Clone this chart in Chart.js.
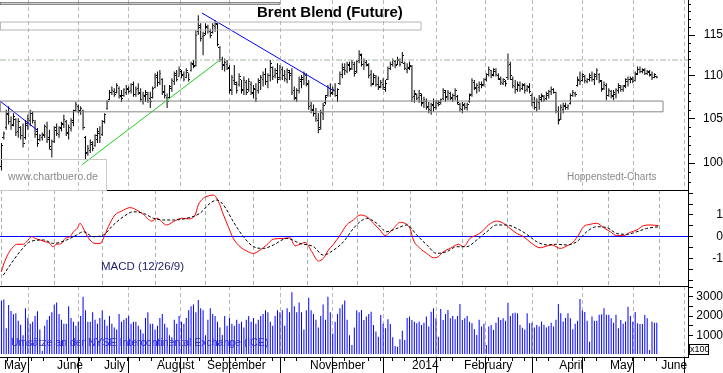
<!DOCTYPE html>
<html><head><meta charset="utf-8">
<script src="https://cdn.jsdelivr.net/npm/chart.js@4.4.1/dist/chart.umd.min.js"></script>
<style>
html,body{margin:0;padding:0;background:#fff;}
#wrap{position:relative;width:723px;height:373px;overflow:hidden;background:#fff;font-family:"Liberation Sans",Arial,sans-serif;}
#wrap canvas{position:absolute;left:0;}
.t{position:absolute;white-space:nowrap;line-height:1;}
</style></head><body>
<div id="wrap">
<canvas id="cPrice" width="723" height="190" style="top:0px"></canvas>
<canvas id="cMacd" width="723" height="96" style="top:190px"></canvas>
<canvas id="cVol" width="723" height="87" style="top:286px"></canvas>
<div class="t" style="left:257px;top:4px;font-size:15px;font-weight:bold;color:#000">Brent Blend (Future)</div>
<div style="position:absolute;left:-1px;top:159px;width:106px;height:30px;border:1px solid #c8c8c8;"></div>
<div class="t" style="left:8px;top:171px;font-size:10.5px;color:#8a8a8a">www.chartbuero.de</div>
<div class="t" style="left:567px;top:171.5px;font-size:10px;color:#8a8a8a">Hoppenstedt-Charts</div>
<div class="t" style="left:101px;top:261px;font-size:11.5px;color:#1c1c6c">MACD (12/26/9)</div>
<div class="t" style="left:11px;top:337px;font-size:10.5px;color:#3030c8">Umsätze an der NYSE Intercontinental Exchange (ICE)</div>
<div class="t" style="left:689px;top:344px;width:18px;height:9px;border:1px solid #000;font-size:9px;line-height:9px;text-align:center;color:#000">x100</div>
</div>
<script>
// ---------- DATA (trading-day index 0 = 1 May 2013) ----------
const monthTickIdx = [0.2,22.3,41.9,64,84.8,105.2,127.7,148.5,170.2,191.9,211,231.5,252.7,274];
const monthLabels  = ['May','June','July','August','September','','November','','2014','February','','April','May','June'];

const open = [99.6,102.8,103.9,105.4,104.6,104.3,104.9,103.5,104.0,103.0,102.8,104.2,104.8,105.5,104.5,103.5,102.6,102.8,103.0,104.0,102.8,101.5,102.4,103.6,103.2,103.8,104.3,104.6,103.3,103.8,104.5,105.9,106.4,105.9,105.9,102.8,101.2,101.4,102.1,101.9,102.6,103.3,103.2,104.6,106.1,107.2,108.0,108.1,108.0,108.5,107.5,107.6,108.0,108.3,108.2,108.9,107.8,108.5,107.9,107.0,107.5,107.8,107.3,107.4,108.6,109.8,109.2,109.5,108.1,107.4,107.4,108.5,109.3,110.0,109.9,110.5,110.1,109.8,110.4,110.6,111.3,111.2,115.4,116.0,114.8,115.2,116.0,115.5,115.3,116.1,116.3,113.4,112.0,111.2,111.4,111.0,108.2,109.4,109.0,108.9,109.6,108.3,109.2,108.3,109.0,107.9,108.4,108.2,109.2,109.6,110.1,109.3,110.0,111.0,110.0,110.3,109.8,110.8,110.0,109.6,110.4,110.3,108.2,107.3,108.2,109.3,109.6,110.0,109.0,106.5,105.9,105.6,104.8,103.9,105.5,106.8,107.6,108.5,108.0,108.2,107.6,109.1,110.1,110.8,110.5,111.2,110.9,111.4,110.5,111.9,112.5,111.3,111.6,111.2,110.1,109.1,109.8,109.0,108.7,109.0,108.4,109.6,110.9,111.4,111.7,111.4,111.9,111.6,111.5,110.8,110.9,111.1,107.5,107.8,107.4,107.7,106.8,107.0,106.4,105.9,106.5,106.3,106.7,106.8,107.3,108.0,107.5,107.9,107.3,107.6,107.5,106.6,106.0,106.5,106.2,106.9,107.8,109.2,108.5,108.6,108.9,108.9,109.5,110.1,110.6,110.1,110.5,110.0,109.6,109.1,109.3,109.8,111.3,109.6,108.7,108.4,108.8,108.5,108.8,108.3,108.6,107.7,106.8,106.2,106.8,107.2,107.5,107.3,107.7,108.1,108.3,108.0,105.8,104.9,106.0,106.4,106.2,106.7,107.6,107.9,108.8,109.4,109.4,109.9,109.3,109.5,109.8,109.5,109.9,110.2,109.3,108.5,108.8,107.7,108.1,107.5,107.8,108.2,108.6,108.4,108.7,109.3,109.5,109.6,109.4,110.2,110.7,110.5,110.6,110.3,110.4,110.1,109.8,109.9];
const high = [102.2,103.5,106.0,106.4,105.2,105.6,105.0,105.0,104.1,104.4,104.8,105.4,106.0,105.8,104.8,103.9,103.2,103.4,104.3,104.6,103.7,102.6,104.1,104.4,104.1,104.6,105.4,104.8,104.3,105.0,106.0,106.9,106.6,106.4,106.0,103.0,102.0,102.6,102.4,103.2,103.9,104.1,104.8,105.6,107.1,108.3,108.7,108.5,109.1,108.7,108.3,108.5,108.9,108.7,109.1,109.3,108.7,109.1,108.5,108.1,108.3,108.1,108.1,108.7,110.3,110.5,110.7,109.7,108.9,107.9,108.9,109.7,110.5,110.7,111.1,110.7,110.5,110.9,110.3,111.7,111.9,115.6,117.5,116.5,115.4,116.5,116.3,115.8,116.5,116.9,116.5,113.6,112.3,112.1,111.9,111.3,110.1,111.3,109.3,110.3,109.5,109.9,109.5,109.7,109.3,108.9,109.1,109.7,110.1,110.5,110.9,110.3,111.9,111.1,110.9,111.5,111.3,111.1,110.7,110.9,110.7,110.9,108.7,108.5,109.9,110.1,110.5,110.3,109.5,106.9,106.6,106.2,105.6,106.0,106.8,107.7,108.9,109.1,108.7,109.1,108.5,110.5,111.5,111.5,111.7,111.7,111.9,111.7,111.9,113.1,112.7,112.1,111.9,111.5,110.7,110.3,110.1,109.9,109.5,109.7,109.5,111.1,111.7,112.1,111.9,112.3,112.1,112.9,111.7,111.5,111.7,111.3,108.3,107.9,108.3,107.9,107.5,107.3,106.9,106.8,107.3,107.1,107.1,107.3,108.5,108.3,108.3,108.1,107.9,108.5,107.7,106.8,106.9,106.8,106.8,107.9,109.7,109.5,109.1,109.3,109.3,109.7,110.3,111.1,110.7,110.9,110.9,110.3,109.9,109.7,109.5,112.7,111.7,109.9,109.5,109.3,109.3,109.1,109.1,108.9,109.1,107.9,107.5,107.3,107.7,107.9,107.7,108.1,108.3,108.7,108.5,108.1,106.4,106.6,106.8,106.8,106.6,107.9,108.3,108.1,109.9,110.5,110.3,110.1,109.7,110.3,110.5,110.3,110.9,110.3,109.5,109.3,109.1,108.5,108.3,108.3,108.5,109.1,108.9,108.9,109.7,109.9,109.9,109.9,110.5,111.1,111.1,110.9,110.9,110.7,110.7,110.5,110.3,110.0];
const low = [99.2,102.6,103.7,104.3,103.7,104.1,103.0,102.8,102.6,101.7,102.6,103.7,104.1,104.4,102.8,101.8,102.4,102.5,102.8,102.2,101.5,100.6,102.2,103.0,102.8,103.5,103.9,103.0,102.6,103.5,104.1,105.8,105.6,105.4,103.7,100.4,100.8,101.1,101.3,101.8,102.2,102.2,103.0,104.4,106.0,107.1,107.7,107.5,107.9,107.3,106.9,107.5,107.7,107.9,107.9,107.5,107.5,107.7,106.9,106.6,106.9,106.8,106.2,107.3,108.5,108.7,108.9,107.7,107.3,106.2,107.3,108.1,108.9,109.3,109.9,109.7,109.3,109.7,109.3,110.5,110.9,111.1,115.0,114.2,112.5,115.0,115.2,114.6,115.2,115.4,113.6,111.7,110.7,110.5,110.7,107.9,107.7,108.9,107.9,108.7,107.9,107.7,107.7,108.1,107.7,107.3,106.9,107.9,108.3,108.7,108.9,108.5,109.3,109.5,109.7,109.1,109.5,109.5,109.3,109.1,109.5,107.7,107.1,106.9,107.9,108.5,108.9,108.7,106.0,105.6,105.2,104.6,103.3,103.7,104.8,106.6,107.5,107.5,107.7,107.5,106.9,108.9,109.7,110.1,110.3,110.5,110.7,109.9,110.3,111.5,111.1,110.7,111.1,109.7,108.7,108.9,108.7,108.3,108.5,108.3,108.1,109.5,110.7,111.1,110.9,111.3,111.1,111.5,110.7,110.3,110.7,106.9,106.8,107.1,106.8,106.4,106.2,106.0,105.6,105.4,105.8,106.0,106.4,106.6,107.1,106.9,107.1,107.1,106.9,107.1,106.6,105.8,105.6,106.0,105.9,106.8,107.5,108.3,107.9,108.1,108.5,108.7,109.3,109.9,109.7,109.9,109.9,109.5,108.9,108.9,108.7,109.5,109.5,108.5,107.9,108.1,108.1,108.3,107.9,108.1,107.9,106.4,106.0,105.8,106.0,106.9,106.9,107.1,107.3,107.7,107.9,105.6,104.3,104.8,105.6,106.0,106.0,106.6,107.5,107.5,108.7,108.9,109.3,109.1,109.1,109.3,109.3,108.9,109.5,109.1,108.1,108.3,107.1,107.5,107.3,107.1,107.3,107.9,108.1,108.1,108.5,108.7,109.1,109.1,109.3,110.1,110.3,110.3,110.1,110.1,109.9,109.5,109.7,109.7];
const close = [101.9,103.3,105.6,104.6,104.2,105.2,103.4,104.6,103.0,102.2,104.4,105.0,105.6,104.7,103.2,102.2,103.0,103.2,104.1,102.6,101.8,102.4,103.9,103.3,104.0,104.4,104.9,103.4,104.0,104.8,105.9,106.6,105.8,106.1,104.0,101.0,101.6,102.3,101.6,103.0,103.5,102.8,104.6,105.4,106.9,108.0,108.2,107.8,108.8,107.6,107.3,108.3,108.5,108.1,108.9,107.8,108.4,108.0,107.2,107.7,108.0,107.1,107.0,108.5,110.0,109.2,110.3,108.0,107.6,107.0,108.7,109.4,110.3,109.6,110.8,110.0,109.6,110.6,109.5,111.5,111.1,115.0,116.2,114.6,114.9,116.1,115.6,115.0,116.2,116.4,113.8,112.0,111.3,111.6,110.9,108.3,109.8,109.2,108.2,109.9,108.2,109.4,108.0,109.3,108.0,108.5,107.3,109.4,109.8,110.2,109.3,110.0,111.5,109.9,110.6,109.5,111.0,110.0,109.7,110.6,110.0,108.0,107.4,108.2,109.5,109.8,110.2,109.1,106.4,106.0,105.5,105.0,103.7,105.7,106.5,107.4,108.6,107.9,108.3,107.7,108.3,110.2,111.0,110.6,111.4,110.8,111.6,110.3,111.7,112.6,111.4,111.8,111.3,110.0,109.0,110.0,109.0,108.6,109.2,108.6,109.1,110.9,111.3,111.8,111.2,112.0,111.4,112.4,110.9,111.0,111.2,107.4,107.9,107.3,107.9,106.7,107.2,106.3,106.0,106.6,106.2,106.8,106.6,107.2,108.2,107.4,108.0,107.4,107.7,108.2,106.8,106.1,106.6,106.2,106.6,107.7,109.4,108.6,108.8,109.0,108.8,109.5,110.1,110.8,110.0,110.7,110.1,109.7,109.2,109.5,109.1,111.2,110.0,108.8,108.3,108.9,108.4,108.9,108.2,108.7,108.1,106.8,106.3,106.9,107.4,107.6,107.2,107.9,108.1,108.4,108.0,105.9,104.8,106.2,106.5,106.3,106.5,107.7,108.0,107.8,109.6,109.3,110.1,109.4,109.6,110.0,109.5,110.1,110.6,109.4,108.4,108.9,107.6,108.2,107.6,108.0,108.3,108.8,108.3,108.8,109.5,109.6,109.7,109.3,110.3,110.8,110.5,110.7,110.3,110.5,110.0,109.8,110.1,109.8];
const volume = [2800,2860,1360,2570,2260,2090,2140,1750,1550,1000,2400,1900,1600,1700,2000,2250,1300,200,1500,1800,2000,2200,2600,2700,2100,1800,1600,1600,2500,1900,1700,1500,1700,2000,3000,2300,1700,1700,2200,1800,1600,1900,2300,1800,1500,2000,1600,1400,1300,2100,1700,1800,1900,2000,1600,1700,1700,1500,1300,1100,1900,2200,1600,1600,1300,1500,1900,2100,1600,1400,1000,900,1800,1600,2000,1700,1600,1900,2300,2500,2600,2200,2830,2400,2300,1000,1800,2400,2100,2000,1700,1400,1020,2000,1500,1900,1600,1500,1800,1600,1700,1400,1800,2000,1700,1900,1600,1800,2000,2100,2300,2200,1700,1500,2000,2300,2200,2300,1500,2400,2200,3230,2500,2200,2700,2200,1300,2300,2950,2300,2100,1800,1400,2000,2600,1800,3000,2200,1100,1700,2100,2400,2600,2800,1800,1000,500,1400,2300,2200,2310,1790,1970,2100,2220,1530,1200,930,2050,1600,1360,1830,1590,900,450,410,800,1240,760,1900,1970,1790,1700,1620,1710,1530,1650,1970,1450,2220,2400,1880,930,2360,1790,2100,2310,1880,2000,1830,2000,2620,1790,1880,2000,1700,1620,1310,1020,1800,1450,1600,500,1450,1530,1270,1650,1930,1790,1880,1760,2690,2000,2140,2170,2140,1530,1390,1300,2140,1620,1650,1400,1530,1450,1710,1550,1410,1480,1650,1450,1800,2620,2140,1710,1900,2140,1880,1310,1600,1760,2880,2280,2210,1760,670,1970,1760,1760,2070,2090,2400,2070,2070,1880,1650,2070,1360,1790,1600,1710,2480,2000,1700,2210,1620,1590,1590,2050,1880,240,1710,1650,1650];

// MACD (12/26/9) readings: [trading-day index, value]
const macdLine = [[0,-1.62],[0.8,-1.31],[2.9,-0.77],[5.0,-0.46],[6.3,-0.35],[9.1,-0.35],[10.5,-0.23],[12.6,0],[14.0,-0.08],[16.1,-0.15],[18.2,-0.23],[20.2,-0.31],[21.3,-0.46],[23.0,-0.35],[25.1,-0.31],[26.5,-0.08],[28.6,0],[30.0,0.23],[31.6,0.38],[32.7,0.62],[33.8,0.46],[35.5,0.08],[36.9,-0.15],[39.0,-0.31],[41.1,-0.31],[42.5,-0.08],[44.5,0.46],[47.3,1.0],[50.1,1.18],[53.6,1.34],[56.3,1.23],[59.1,1.03],[62.6,0.72],[64.7,0.85],[68.8,0.54],[71.6,0.69],[75.1,0.85],[77.9,0.82],[80.7,1.0],[82.0,1.46],[84.1,1.77],[86.2,1.88],[88.3,1.92],[90.4,1.62],[92.5,1.0],[94.5,0.46],[96.6,-0.08],[99.4,-0.46],[102.2,-0.66],[105.0,-0.77],[107.7,-0.62],[110.5,-0.38],[113.3,-0.11],[117.5,-0.08],[120.2,-0.05],[122.3,-0.42],[124.4,-0.35],[126.5,-0.26],[129.3,-0.69],[132.0,-1.12],[134.1,-1.0],[136.2,-0.62],[138.3,-0.35],[141.1,0.08],[143.8,0.54],[146.6,0.77],[149.4,1.0],[152.2,0.92],[155.0,0.62],[157.7,0.31],[159.8,0.05],[161.2,0.15],[163.3,0.38],[166.1,0.66],[168.8,0.57],[170.2,0.38],[171.6,-0.15],[174.4,-0.54],[177.2,-0.77],[180.0,-0.97],[182.0,-0.92],[184.1,-0.69],[186.9,-0.54],[190.4,-0.35],[192.5,-0.46],[195.2,-0.08],[198.0,0.08],[200.1,0.23],[202.9,0.54],[206.3,0.72],[209.1,0.62],[211.9,0.38],[214.7,0.15],[217.5,0],[220.9,-0.31],[224.4,-0.51],[227.2,-0.43],[229.3,-0.38],[232.7,-0.54],[235.5,-0.43],[238.3,-0.23],[240.4,0.08],[242.5,0.46],[245.2,0.57],[248.0,0.62],[250.8,0.42],[253.6,0.23],[256.3,0.05],[259.1,0.05],[261.9,0.2],[264.7,0.31],[267.5,0.51],[270.2,0.54],[273.7,0.51]];
const signalLine = [[0.8,-1.77],[3.6,-1.31],[7.7,-0.69],[11.9,-0.23],[17.5,-0.15],[21.6,-0.31],[27.2,-0.15],[31.3,0.08],[34.1,0.23],[38.3,0],[42.5,0.08],[46.6,0.54],[50.8,0.92],[55.0,1.15],[59.1,1.08],[63.3,0.85],[67.5,0.77],[71.6,0.77],[77.2,0.85],[82.7,1.08],[86.9,1.54],[89.7,1.69],[92.5,1.46],[96.6,0.69],[100.8,0],[105.0,-0.46],[109.1,-0.54],[113.3,-0.38],[118.9,-0.08],[124.4,-0.31],[130.0,-0.46],[134.1,-0.85],[138.3,-0.62],[142.5,-0.23],[146.6,0.38],[149.4,0.69],[152.2,0.85],[156.3,0.62],[160.5,0.23],[164.7,0.38],[168.8,0.54],[173.0,0.08],[177.2,-0.38],[181.3,-0.77],[185.5,-0.69],[189.7,-0.46],[193.8,-0.46],[198.0,-0.15],[202.2,0.23],[206.3,0.54],[210.5,0.54],[214.7,0.38],[218.8,0.11],[223.0,-0.23],[227.2,-0.38],[231.3,-0.35],[235.5,-0.38],[239.7,-0.23],[243.8,0.23],[248.0,0.46],[252.2,0.42],[256.3,0.15],[260.5,0.11],[264.7,0.23],[268.8,0.38],[273.7,0.46]];

// chart annotations in data units: [index, price]
const trendBlue1 = [[-0.6,107.0],[15.2,103.6]];
const trendBlue2 = [[83.5,117.8],[138.5,108.2]];
const trendGreen = [[33.5,99.8],[91,111.9]];
const resistance = [[-0.6,111.9],[286,111.9]];
const zoneA = {from:-0.6, to:116,   lo:118.92, hi:119.13};
const zoneB = {from:-0.6, to:174.8, lo:115.63, hi:116.64};
const zoneC = {from:-0.6, to:275.6, lo:105.75, hi:107.0};

const priceTicks = [100,105,110,115];
const priceMinor = [98,99,101,102,103,104,106,107,108,109,111,112,113,114,116,117,118,119];
const macdTicks = [-2,-1.5,-1,-0.5,0,0.5,1,1.5,2];
const macdLabelled = [-1,0,1];
const volTicks = [0,500,1000,1500,2000,2500,3000,3500];
const volLabelled = [1000,2000,3000];

// ---------- RENDERING ----------
const FONT = "'Liberation Sans', Arial, sans-serif";
const X_MIN = -0.6, X_MAX = 286;
const GRID = '#c6b0c6';
const GRID_MACD = '#a6b4a6';

function tickImg(left){
  const c=document.createElement('canvas'); c.width=3; c.height=1;
  const g=c.getContext('2d'); g.fillStyle='#000'; g.fillRect(left?0:2,0,1,1); return c;
}
const openImg=tickImg(true), closeImg=tickImg(false);

const topLine = {id:'topLine', afterDraw(chart){
  const a=chart.chartArea, ctx=chart.ctx; ctx.save(); ctx.fillStyle='#000';
  ctx.fillRect(a.left, a.top, a.right-a.left, 1); ctx.restore(); }};
const minorTicks = {id:'minorTicks', afterDraw(chart, args, o){
  if(!o || !o.values) return;
  const s=chart.scales[o.axis], ctx=chart.ctx; ctx.save(); ctx.strokeStyle='#000'; ctx.lineWidth=1; ctx.beginPath();
  for(const v of o.values){
    if(o.horizontal){ const x=Math.round(s.getPixelForValue(v))+0.5; ctx.moveTo(x,s.top); ctx.lineTo(x,s.top+o.len); }
    else { const y=Math.round(s.getPixelForValue(v))+0.5; ctx.moveTo(s.left,y); ctx.lineTo(s.left+o.len,y); }
  }
  ctx.stroke(); ctx.restore(); }};

function xHidden(color){
  return {type:'linear', min:X_MIN, max:X_MAX, offset:false,
    afterBuildTicks:s=>{ s.ticks = monthTickIdx.map(v=>({value:v})); },
    afterFit:s=>{ s.paddingLeft=0; s.paddingRight=0; s.height=0; },
    grid:{color:color, lineWidth:1, drawTicks:false},
    border:{display:false, dash:[4,3]},
    ticks:{display:false}};
}
function yRight(o){
  return Object.assign({position:'right',
    afterFit:s=>{ s.width=35; s.paddingTop=0; s.paddingBottom=0; },
    border:{display:true, color:'#000', width:1}}, o);
}
const common = {responsive:false, animation:false, events:[], layout:{padding:0, autoPadding:false},
  plugins:{legend:{display:false}, tooltip:{enabled:false}}};

const pts = a => a.map(p=>({x:p[0], y:p[1]}));
const box = z => [{x:z.from,y:z.lo},{x:z.to,y:z.lo},{x:z.to,y:z.hi},{x:z.from,y:z.hi},{x:z.from,y:z.lo}];
const lineDs = (data,color,extra) => Object.assign({type:'line', data, borderColor:color, borderWidth:1, pointRadius:0, fill:false, tension:0}, extra||{});

// Price panel
new Chart(document.getElementById('cPrice'), {
  type:'bar',
  data:{datasets:[
    lineDs(box(zoneA),'#6e6e6e'),
    lineDs(box(zoneB),'#b4b4b4'),
    lineDs(box(zoneC),'#858585'),
    lineDs(pts(resistance),'#a4b4a0',{borderDash:[6,2,2,2]}),
    lineDs(pts(trendGreen),'#22cc22'),
    lineDs(pts(trendBlue1),'#0000ff'),
    lineDs(pts(trendBlue2),'#0000ff'),
    {type:'bar', data:high.map((h,i)=>({x:i, y:[low[i],h]})), backgroundColor:'#000', borderWidth:0, barThickness:1, inflateAmount:0},
    {type:'line', data:open.map((v,i)=>({x:i,y:v})), showLine:false, pointStyle:openImg, pointRadius:1},
    {type:'line', data:close.map((v,i)=>({x:i,y:v})), showLine:false, pointStyle:closeImg, pointRadius:1}
  ]},
  options:Object.assign({}, common, {
    plugins:Object.assign({}, common.plugins, {minorTicks:{axis:'y', values:priceMinor, len:3}}),
    scales:{
      x:xHidden(GRID),
      y:yRight({type:'logarithmic', min:97.10, max:119.48,
        afterBuildTicks:s=>{ s.ticks = priceTicks.map(v=>({value:v})); },
        grid:{drawOnChartArea:false, drawTicks:true, tickLength:7, tickColor:'#000'},
        ticks:{color:'#000', font:{family:FONT,size:12}, crossAlign:'far', padding:6, autoSkip:false, callback:v=>String(v)}})
    }}),
  plugins:[minorTicks]
});

// MACD panel
new Chart(document.getElementById('cMacd'), {
  type:'line',
  data:{datasets:[
    lineDs(pts(signalLine),'#000',{borderDash:[3,2], cubicInterpolationMode:'monotone'}),
    lineDs(pts(macdLine),'#ff0000',{cubicInterpolationMode:'monotone'})
  ]},
  options:Object.assign({}, common, {
    scales:{
      x:xHidden(GRID_MACD),
      y:yRight({type:'linear', min:-2.272, max:2.152,
        afterBuildTicks:s=>{ s.ticks = macdTicks.map(v=>({value:v})); },
        grid:{drawOnChartArea:true, drawTicks:true, tickLength:5, tickColor:'#000',
              color:c=> (c.tick && c.tick.value===0) ? '#0000ff' : 'rgba(0,0,0,0)'},
        ticks:{color:'#000', font:{family:FONT,size:12}, crossAlign:'far', padding:16, autoSkip:false,
               callback:v=> macdLabelled.includes(v) ? String(v) : ''}})
    }}),
  plugins:[topLine]
});

// Volume panel
const VOL_MIN=-124, VOL_MAX=3555;
const weekTicks=[]; for(let w=2.5; w<274; w+=5){ if(!monthTickIdx.some(m=>Math.abs(m-w)<1.2)) weekTicks.push(w); }
new Chart(document.getElementById('cVol'), {
  type:'bar',
  data:{datasets:[
    {data:volume.map((v,i)=>({x:i,y:v})), backgroundColor:'#0000ff', borderWidth:0, barThickness:1, inflateAmount:0, base:0}
  ]},
  options:Object.assign({}, common, {
    plugins:Object.assign({}, common.plugins, {minorTicks:{axis:'x', values:weekTicks, len:4, horizontal:true}}),
    scales:{
      x:{type:'linear', position:'bottom', min:X_MIN, max:X_MAX, offset:false,
        afterBuildTicks:s=>{ s.ticks = monthTickIdx.map(v=>({value:v})); },
        afterFit:s=>{ s.height=16; s.paddingLeft=0; s.paddingRight=0; },
        grid:{color:GRID, lineWidth:1, drawTicks:true, tickLength:16, tickColor:'#000', tickWidth:1},
        border:{display:true, color:'#000', width:1, dash:[4,3]},
        ticks:{display:true, align:'start', labelOffset:2, padding:-15, maxRotation:0, minRotation:0, autoSkip:false,
               color:'#000', font:{family:FONT,size:12}, callback:(v,i)=>monthLabels[i]}},
      y:yRight({type:'linear', min:VOL_MIN, max:VOL_MAX,
        afterBuildTicks:s=>{ s.ticks = volTicks.map(v=>({value:v})); },
        grid:{drawOnChartArea:false, drawTicks:true, tickLength:5, tickColor:'#000'},
        ticks:{color:'#000', font:{family:FONT,size:12}, crossAlign:'far', padding:0, autoSkip:false,
               callback:v=> volLabelled.includes(v) ? String(v) : ''}})
    }}),
  plugins:[topLine, minorTicks]
});
</script>
</body></html>
